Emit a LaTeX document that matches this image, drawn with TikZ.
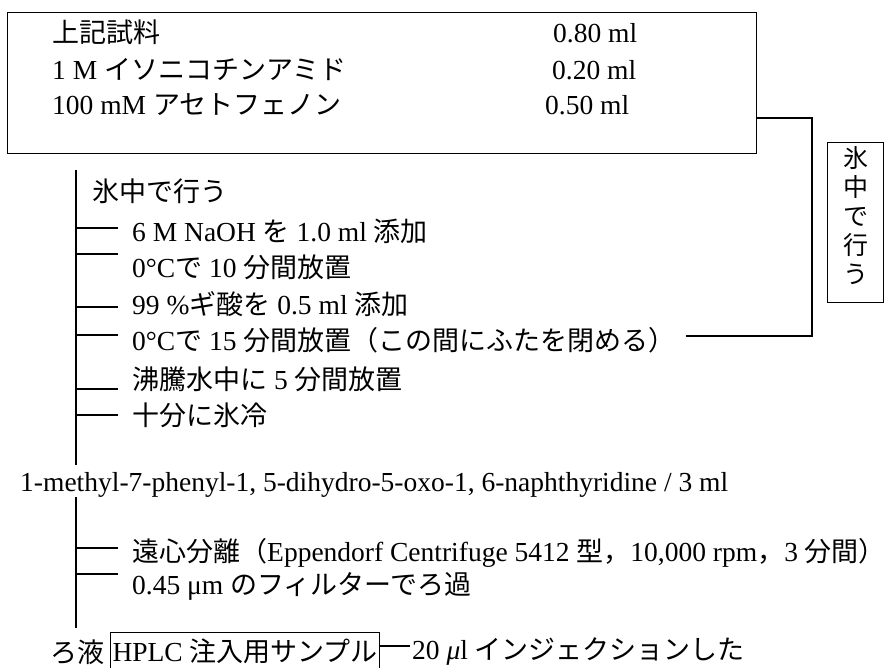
\documentclass[tikz,border=0pt]{standalone}
\usepackage{fontspec}
\setmainfont{Liberation Serif}
\newfontfamily\jpf{Noto Sans CJK JP}
\newcommand{\jp}[1]{{\fontsize{27}{30}\jpf #1}}
\tikzset{
  txt/.style={anchor=base west, inner sep=0pt, font=\fontsize{27.5}{30}\selectfont},
  ln/.style={line width=1.3pt},
  thinln/.style={line width=1pt}
}
\begin{document}
\begin{tikzpicture}[x=1pt,y=-1pt]
\useasboundingbox (0,0) rectangle (885,667);
\clip (0,0) rectangle (885,667);
% top box
\node[draw, ln, anchor=north west, inner sep=0pt, minimum width=749pt, minimum height=141pt] (bigbox) at (7,12) {};
\node[txt] (a1) at (52,42) {\jp{上記試料}};
\node[txt] (a2) at (52,79) {1 M \jp{イソニコチンアミド}};
\node[txt] (a3) at (52,114) {100 mM \jp{アセトフェノン}};
\node[txt] (v1) at (553,42) {0.80 ml};
\node[txt] (v2) at (552,79) {0.20 ml};
\node[txt] (v3) at (545,114) {0.50 ml};
% side box
\node[draw, ln, anchor=north west, inner sep=0pt, minimum width=56pt, minimum height=160pt] (vbox) at (827,142) {};
\node[inner sep=0pt, align=center, font=\jpf\fontsize{25}{29}\selectfont] (vtext) at (856,216) {氷\\中\\で\\行\\う};
% main steps
\node[txt] (s0) at (92,201) {\jp{氷中で行う}};
\node[txt] (s1) at (132,241) {6 M NaOH \jp{を} 1.0 ml \jp{添加}};
\node[txt] (s2) at (132,277) {0°C\jp{で} 10 \jp{分間放置}};
\node[txt] (s3) at (132,314) {99 \%\jp{ギ酸を} 0.5 ml \jp{添加}};
\node[txt] (s4) at (132,350) {0°C\jp{で} 15 \jp{分間放置（この間にふたを閉める）}};
\node[txt] (s5) at (132,389) {\jp{沸騰水中に} 5 \jp{分間放置}};
\node[txt] (s6) at (132,425) {\jp{十分に氷冷}};
\node[txt] (meth) at (20,491) {1-methyl-7-phenyl-1, 5-dihydro-5-oxo-1, 6-naphthyridine / 3 ml};
\node[txt] (s7) at (132,561) {\jp{遠心分離（}Eppendorf Centrifuge 5412 \jp{型，}10,000 rpm\jp{，}3 \jp{分間）}};
\node[txt] (s8) at (132,594) {0.45 μm \jp{のフィルターでろ過}};
\node[txt] (filt) at (50,662) {\jp{ろ液}};
\node[txt, draw, thinln, inner xsep=2pt, inner ysep=0pt, text height=29pt, text depth=13pt] (hplc) at (110,661) {HPLC \jp{注入用サンプル}};
\node[txt] (inj) at (412,659) {20 \textit{μ}l \jp{インジェクションした}};
% main vertical line
\coordinate (vtop) at (76,170);
\coordinate (g1) at (76,465);
\coordinate (g2) at (76,497);
\coordinate (vbot) at (76,628);
\draw[ln] (vtop) -- (g1);
\draw[ln] (g2) -- (vbot);
% branches
\foreach \n/\y in {b1/228,b2/254,b3/307,b4/335,b5/389,b6/415,b7/548,b8/574}{
  \coordinate (\n) at (118,\y);
  \draw[ln] (vtop |- \n) -- (\n);
}
% bracket from box to row 4
\coordinate (c1) at (812,118);
\coordinate (c2) at (812,336);
\draw[ln] (bigbox.east |- c1) -- (c1) -- (c2) -- ([xshift=10pt]s4.east |- c2);
% injection connector
\draw[ln] ([yshift=5pt]hplc.east |- inj.west) -- ([xshift=-2pt,yshift=5pt]inj.west);
\end{tikzpicture}
\end{document}
